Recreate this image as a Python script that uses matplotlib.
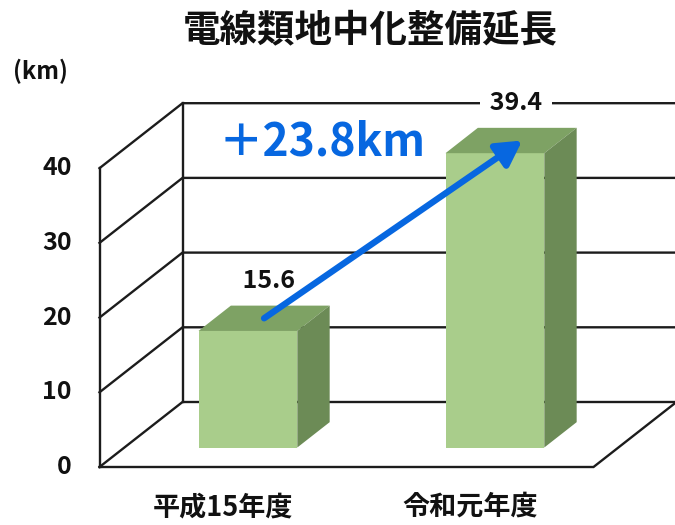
import matplotlib
matplotlib.use('Agg')
import matplotlib.pyplot as plt
from matplotlib.patches import Polygon

plt.rcParams['font.family'] = ['Noto Sans CJK JP', 'DejaVu Sans']

# ---------------- data ----------------
title = '電線類地中化整備延長'
unit_label = '(km)'
categories = ['平成15年度', '令和元年度']
values = [15.6, 39.4]
yticks = [0, 10, 20, 30, 40]

# ---------------- layout / style ----------------
W, H = 675, 525
PX_CAT = 247.0      # pixels per category unit
PX_KM = 7.47        # pixels per km
X0_PX = 223.0       # pixel x of first category (front plane)
Y0_PX = 467.0       # pixel y (from top) of value 0 (front plane)
DEPTH_X = 83.0 / PX_CAT   # full depth of the box, in category units
DEPTH_Y = 65.0 / PX_KM    # full depth of the box, in km units
BAR_W = 0.40
BAR_D0, BAR_D1 = 0.30, 0.69
LINE_C = '#1c1c1c'
FRONT_C, TOP_C, SIDE_C = '#a9cd8b', '#7ea264', '#6c8b56'
BLUE = '#0767e0'
TEXT_C = '#111111'

fig = plt.figure(figsize=(W / 100, H / 100), dpi=100)
ax = fig.add_axes([0, 0, 1, 1])
ax.set_xlim(-X0_PX / PX_CAT, (W - X0_PX) / PX_CAT)
ax.set_ylim(-(H - Y0_PX) / PX_KM, Y0_PX / PX_KM)
ax.axis('off')


def P(x, v, d):
    """Oblique projection: x (category units), value v, depth d in [0,1]."""
    return (x + d * DEPTH_X, v + d * DEPTH_Y)


xmin = -0.5
xmax = len(categories) - 0.5
vmax = yticks[-1]

lw = 1.7
# left wall edges
for d in (0, 1):
    a, b = P(xmin, 0, d), P(xmin, vmax, d)
    ax.plot([a[0], b[0]], [a[1], b[1]], color=LINE_C, lw=lw, zorder=1)
# gridlines: left wall diagonal + back wall horizontal
for v in yticks:
    pts = [P(xmin, v, 0), P(xmin, v, 1), P(xmax, v, 1)]
    ax.plot([p[0] for p in pts], [p[1] for p in pts], color=LINE_C, lw=lw,
            zorder=1, solid_joinstyle='miter')
# floor
pts = [P(xmin, 0, 0), P(xmax, 0, 0), P(xmax, 0, 1)]
ax.plot([p[0] for p in pts], [p[1] for p in pts], color=LINE_C, lw=lw,
        zorder=1, solid_joinstyle='miter')

dm = 0.5 * (BAR_D0 + BAR_D1)

# bars
for i, v in enumerate(values):
    xl, xr = i - BAR_W / 2, i + BAR_W / 2
    front = [P(xl, 0, BAR_D0), P(xr, 0, BAR_D0), P(xr, v, BAR_D0), P(xl, v, BAR_D0)]
    top = [P(xl, v, BAR_D0), P(xr, v, BAR_D0), P(xr, v, BAR_D1), P(xl, v, BAR_D1)]
    side = [P(xr, 0, BAR_D0), P(xr, v, BAR_D0), P(xr, v, BAR_D1), P(xr, 0, BAR_D1)]
    ax.add_patch(Polygon(front, closed=True, fc=FRONT_C, ec='none', zorder=3))
    ax.add_patch(Polygon(top, closed=True, fc=TOP_C, ec='none', zorder=3))
    ax.add_patch(Polygon(side, closed=True, fc=SIDE_C, ec='none', zorder=3))
    lx, ly = P(i + 0.02, v + 5.0, dm)
    ax.text(lx, ly, f' {v:.1f} ', ha='center', va='center', fontsize=18,
            fontweight='bold', color=TEXT_C, zorder=4,
            bbox=dict(boxstyle='square,pad=0.15', fc='white', ec='none'))

# y tick labels
for v in yticks:
    ax.text(xmin - 0.113, v, f'{v}', ha='right', va='center', fontsize=18,
            fontweight='bold', color=TEXT_C)

# category labels
for i, c in enumerate(categories):
    ax.text(i, -5.35, c, ha='center', va='center', fontsize=19.5,
            fontweight='bold', color=TEXT_C)

# arrow between bar tops
start = P(0, values[0], dm)
end = P(1 + 0.045, values[1], dm)
ax.annotate('', xy=end, xytext=start,
            arrowprops=dict(arrowstyle='-|>,head_length=0.75,head_width=0.42',
                            mutation_scale=20, color=BLUE, lw=4.6,
                            shrinkA=0, shrinkB=0),
            zorder=5)

diff = values[1] - values[0]
fig.text(219 / W, 1 - 143 / H, f'＋{diff:.1f}km', ha='left', va='center',
         fontsize=32, fontweight='bold', color=BLUE)

fig.text(370 / W, 1 - 30 / H, title, ha='center', va='center', fontsize=27,
         fontweight='bold', color=TEXT_C)
fig.text(13 / W, 1 - 71 / H, unit_label, ha='left', va='center', fontsize=17,
         fontweight='bold', color=TEXT_C)

fig.savefig('out.png', dpi=100, facecolor='white')
